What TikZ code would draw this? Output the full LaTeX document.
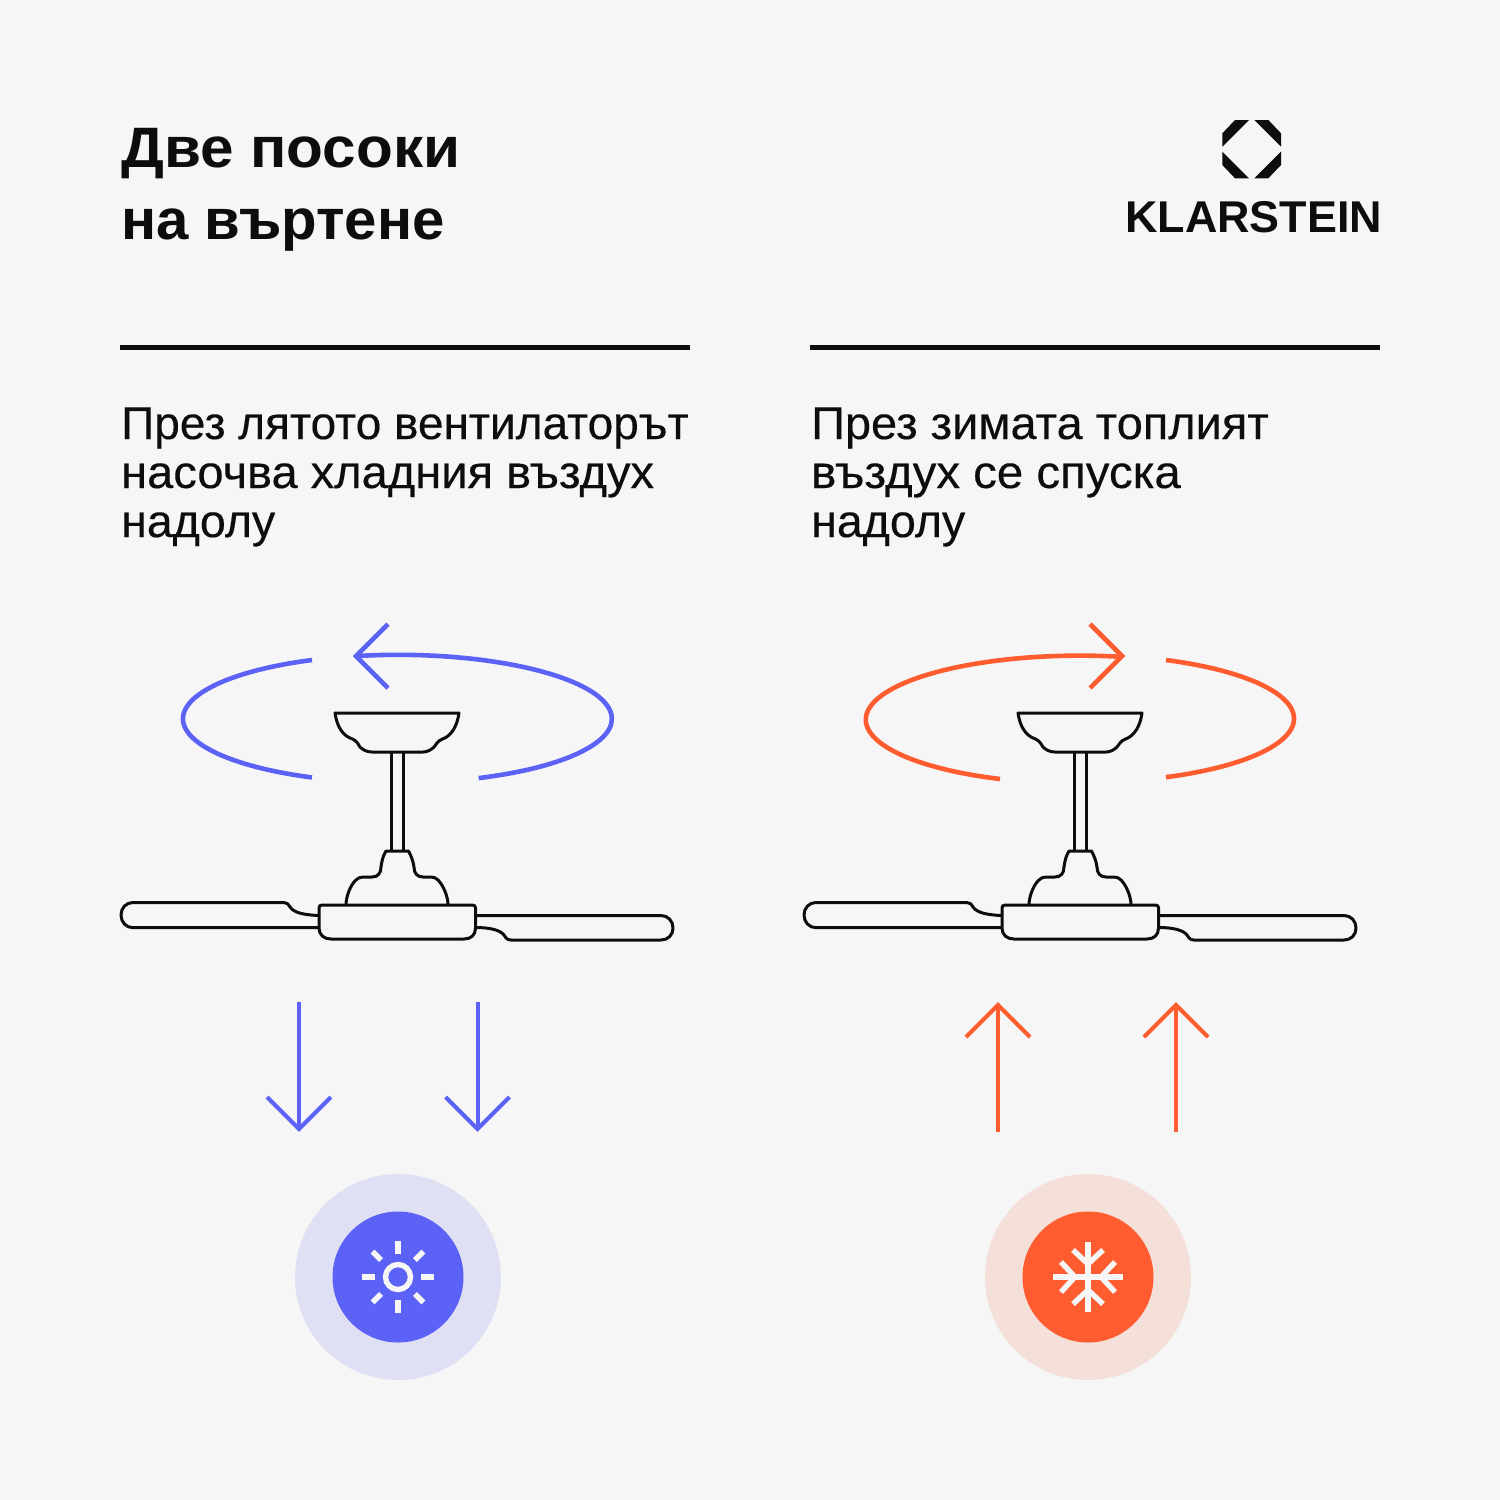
\documentclass[tikz,border=0pt]{standalone}
\usepackage{graphicx}
\usepackage{fontspec}
\setmainfont{Liberation Sans}
\newfontfamily\mediumfont[FakeBold=0.25]{Liberation Sans}
\definecolor{bgc}{HTML}{F6F6F6}
\definecolor{ink}{HTML}{0D0D0D}
\definecolor{cool}{HTML}{5B62F5}
\definecolor{coolpale}{HTML}{E0E0F5}
\definecolor{warm}{HTML}{FF5C2F}
\definecolor{warmpale}{HTML}{F5DFD9}
\tikzset{
  fanline/.style={draw=ink,line width=3pt,line join=round},
  rule/.style={draw=ink,line width=5pt},
  orbit/.style={line width=4.6pt},
  flow/.style={line width=4pt},
  titletext/.style={anchor=base west,inner sep=0pt,font=\fontsize{57}{57}\selectfont\bfseries,text=ink},
  bodytext/.style={anchor=base west,inner sep=0pt,font=\fontsize{46}{46}\mediumfont,text=ink},
  glyphline/.style={draw=bgc,line width=5.4pt}
}
\newcommand{\wider}[2]{\scalebox{#1}[1]{#2}}
\newcommand{\fanshape}{%
  \draw[fanline] (335,713) -- (459,713) .. controls (457,727) and (451,736) .. (442.5,739)
    .. controls (437,741) and (436,745) .. (434,747) .. controls (431,750) and (427,752) .. (423,752)
    -- (372,752) .. controls (367,752) and (363,750) .. (360,747) .. controls (358,744) and (357,741) .. (352.5,739)
    .. controls (343,736) and (337,727) .. (335,713) -- cycle;
  \draw[fanline] (391,752) -- (391,851) (403.5,752) -- (403.5,851);
  \draw[fanline] (346,905) .. controls (346,896) and (351,884) .. (356,880)
    .. controls (358,878) and (360,877) .. (363,877) -- (372,877)
    .. controls (378,877) and (381,873) .. (381,867) .. controls (382,860) and (383,856) .. (386,851)
    -- (408.5,851) .. controls (411,856) and (413,860) .. (414,867)
    .. controls (414,873) and (417,877) .. (423,877) -- (431,877)
    .. controls (434,877) and (436,878) .. (438,880) .. controls (443,885) and (448,896) .. (448,905);
  \draw[fanline] (322,905) -- (472.5,905) .. controls (474.5,905) and (475.5,906) .. (475.5,908)
    -- (475.5,928) .. controls (475.5,935) and (471,939) .. (464,939) -- (331,939)
    .. controls (324,939) and (319,935) .. (319,928) -- (319,908) .. controls (319,906) and (320,905) .. (322,905) -- cycle;
  \draw[fanline] (319,915.5) .. controls (305,915) and (294,913) .. (290,907)
    .. controls (288,904) and (287,902.5) .. (284,902.5) -- (133,902.5)
    .. controls (126,902.5) and (121,908) .. (121,915) .. controls (121,922) and (126,927.7) .. (133,927.7) -- (319,927.7);
  \draw[fanline] (475.5,915.5) -- (661,915.5) .. controls (668,915.5) and (673,921) .. (673,928)
    .. controls (673,935) and (668,940) .. (661,940) -- (511,940)
    .. controls (507,940) and (506,938) .. (504,935) .. controls (500,930) and (490,927.5) .. (475.5,927.5);
}
\begin{document}
\begin{tikzpicture}[x=1pt,y=-1pt]
\useasboundingbox (0,0) rectangle (1500,1500);
\fill[bgc] (0,0) rectangle (1500,1500);
% heading
\node[titletext] (t1) at (121,167) {\wider{1.056}{Две посоки}};
\node[titletext] (t2) at (121,239) {\wider{1.02}{на въртене}};
% logo
\fill[ink] (1222.3,133.3) -- (1235,120) -- (1249,120) -- (1222.3,146.7) -- cycle;
\fill[ink] (1254.3,120) -- (1268.3,120) -- (1281,133.3) -- (1281,146.7) -- cycle;
\fill[ink] (1222.3,151.7) -- (1249,178.3) -- (1235,178.3) -- (1222.3,165) -- cycle;
\fill[ink] (1281,151.7) -- (1254.3,178.3) -- (1268.3,178.3) -- (1281,165) -- cycle;
\node[anchor=base west,inner sep=0pt,font=\fontsize{44.5}{44.5}\selectfont\bfseries,text=ink] (brand) at (1125,232) {\wider{1.009}{KLARSTEIN}};
% rules
\coordinate (ra) at (120,347); \coordinate (rb) at (690,347);
\coordinate (rc) at (810,347); \coordinate (rd) at (1380,347);
\draw[rule] (ra) -- (rb);
\draw[rule] (rc) -- (rd);
% body text
\node[bodytext] (l1) at (121,439) {\wider{1.0}{През лятото вентилаторът}};
\node[bodytext] (l2) at (121,488) {\wider{1.023}{насочва хладния въздух}};
\node[bodytext] (l3) at (121,537) {\wider{1.012}{надолу}};
\node[bodytext] (r1) at (811,439) {\wider{1.02}{През зимата топлият}};
\node[bodytext] (r2) at (811,488) {\wider{1.03}{въздух се спуска}};
\node[bodytext] (r3) at (811,537) {\wider{1.012}{надолу}};
% fans
\fanshape
\begin{scope}[xshift=683pt]\fanshape\end{scope}
% orbits left
\draw[orbit,cool] (312,660) arc[x radius=214,y radius=64,start angle=246.6,end angle=113.4];
\draw[orbit,cool] (357,656) arc[x radius=214,y radius=64,start angle=259,end angle=427.8];
\draw[orbit,cool,miter limit=10] (388,624) -- (356,656) -- (388,688);
% orbits right
\draw[orbit,warm] (1166,660) arc[x radius=214,y radius=64,start angle=-66.3,end angle=66.3];
\draw[orbit,warm] (1000,779) arc[x radius=214,y radius=64,start angle=111.9,end angle=281];
\draw[orbit,warm] (1090,624) -- (1122,656) -- (1090,688);
% flow arrows
\foreach \ax in {299,477.5}{
  \draw[flow,cool] (\ax,1002) -- (\ax,1129);
  \draw[flow,cool] (\ax-32,1097) -- (\ax,1129) -- (\ax+32,1097);
}
\foreach \ax in {998,1176}{
  \draw[flow,warm] (\ax,1132) -- (\ax,1005);
  \draw[flow,warm] (\ax-32,1037) -- (\ax,1005) -- (\ax+32,1037);
}
% badges
\fill[coolpale] (398,1277) circle[radius=103];
\fill[cool] (398,1277) circle[radius=65.5];
\fill[warmpale] (1088,1277) circle[radius=103];
\fill[warm] (1088,1277) circle[radius=65.5];
% sun
\begin{scope}[shift={(398pt,-1277pt)}]
\draw[glyphline] (0,0) circle[radius=12.5];
\foreach \a in {0,90,180,270}{\draw[glyphline] (\a:23) -- (\a:36);}
\foreach \a in {45,135,225,315}{\draw[glyphline] (\a:24) -- (\a:36);}
\end{scope}
% snowflake
\begin{scope}[shift={(1088pt,-1277pt)}]
\foreach \a in {0,90,180,270}{
  \begin{scope}[rotate=\a]
    \draw[glyphline] (0,0) -- (35,0);
    \draw[glyphline,line join=miter] (27,-15) -- (13,0) -- (27,15);
  \end{scope}
}
\end{scope}
\end{tikzpicture}
\end{document}
